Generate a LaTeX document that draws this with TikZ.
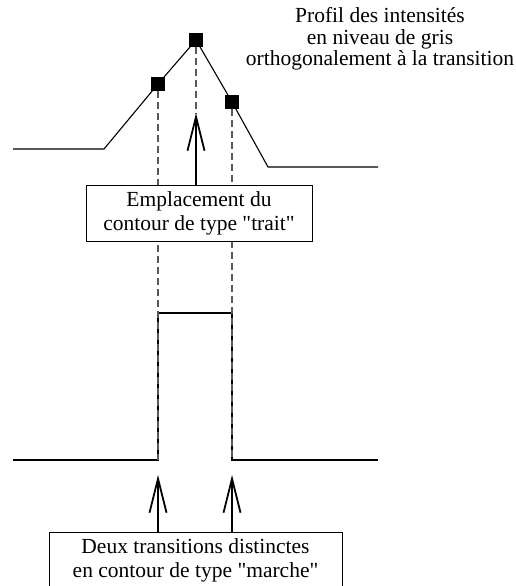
\documentclass[tikz,border=0pt]{standalone}
\usepackage{fontspec}
\setmainfont{Liberation Serif}[Ligatures=TeXOff]
\usetikzlibrary{arrows.meta}
\begin{document}
\begin{tikzpicture}[x=1pt,y=-1pt,
  sq/.style={fill=black,minimum size=13.5pt,inner sep=0pt},
  prof/.style={line width=1.1pt,line join=miter},
  guide/.style={black!65,line width=1.2pt,dash pattern=on 7pt off 4pt},
  box/.style={draw,line width=0.9pt,fill=white,inner xsep=0pt,align=center,font=\fontsize{21.5}{24}\selectfont},
  arr/.style={line width=2.4pt,-{Straight Barb[length=34pt,width=17pt,line width=1.8pt]}},
  lbl/.style={align=center,font=\fontsize{21.5}{21.5}\selectfont,inner sep=0pt}]
\useasboundingbox (0,0) rectangle (516,586);
\clip (0,0) rectangle (516,586);

% top profile
\coordinate (L1) at (13,149);
\coordinate (L2) at (104,149);
\node[sq] (p1) at (158,84) {};
\node[sq] (p2) at (196,40) {};
\node[sq] (p3) at (232,102) {};
\coordinate (R1) at (268,167);
\coordinate (R2) at (378,167);
\draw[prof] (L1) -- (L2) -- (p1.center) -- (p2.center) -- (p3.center) -- (R1) -- (R2);

% step profile
\coordinate (S1) at (13,460);
\coordinate (S2) at (158,460);
\coordinate (S3) at (158,313);
\coordinate (S4) at (232,313);
\coordinate (S5) at (232,460);
\coordinate (S6) at (378,460);
\draw[prof] (S1) -- (S2) -- (S3) -- (S4) -- (S5) -- (S6);

% guides
\coordinate (t1) at (196,113);
\coordinate (t2) at (158,475);
\coordinate (t3) at (232,475);
\draw[guide] (p1.south) -- (S2);
\draw[guide] (p3.south) -- (S5);
\draw[guide] (p2.south) -- (t1);

% boxes
\node[box, minimum width=226pt, minimum height=56pt] (b1) at (199,213)
  {Emplacement du\\contour de type "trait"};
\node[box, minimum width=293pt, inner ysep=6pt, anchor=north] (b2) at (195.5,532)
  {Deux transitions distinctes\\en contour de type "marche"\rule[-20pt]{0pt}{20pt}};

% arrows
\draw[arr] (b1.north -| t1) -- (t1);
\draw[arr] (b2.north -| t2) -- (t2);
\draw[arr] (b2.north -| t3) -- (t3);

% title
\node[lbl] (title) at (380,39)
  {Profil des intensités\\en niveau de gris\\orthogonalement à la transition};
\end{tikzpicture}
\end{document}
